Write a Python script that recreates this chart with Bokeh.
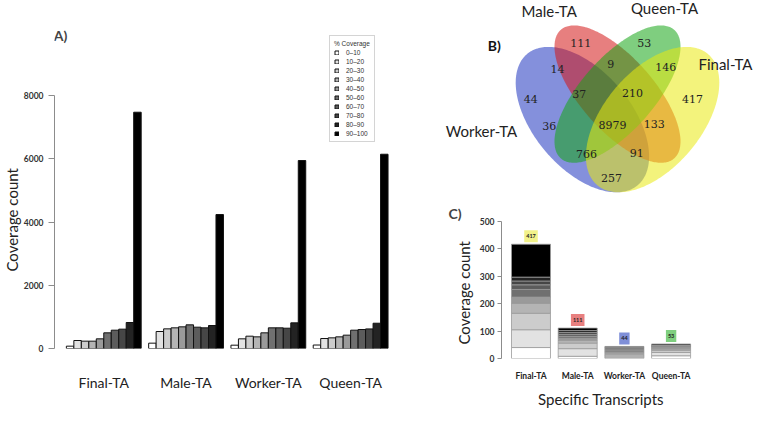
import numpy as np
from bokeh.plotting import figure
from bokeh.models import ColumnDataSource, Range1d, FixedTicker, Legend, LegendItem, Label, Title
from bokeh.layouts import row, column
from bokeh.embed import file_html
from bokeh.resources import INLINE
from bokeh.core.properties import value

# ---------------- data ----------------
groups = ["Final-TA", "Male-TA", "Worker-TA", "Queen-TA"]
coverage_bins = ["0–10", "10–20", "20–30", "30–40", "40–50",
                 "50–60", "60–70", "70–80", "80–90", "90–100"]
final_coverage = [74, 253, 232, 232, 306, 496, 580, 612, 823, 7480]
male_coverage = [169, 538, 622, 654, 686, 749, 675, 654, 728, 4241]
worker_coverage = [105, 306, 390, 369, 496, 654, 654, 643, 812, 5950]
queen_coverage = [110, 316, 337, 369, 422, 580, 601, 620, 800, 6150]
coverage_by_group = [final_coverage, male_coverage, worker_coverage, queen_coverage]
y_ticks_a = [0, 2000, 4000, 6000, 8000]

venn_set_names = ["Worker-TA", "Male-TA", "Queen-TA", "Final-TA"]
venn_counts = [111, 53, 14, 9, 146, 44, 37, 210, 417, 36, 8979, 133, 766, 91, 257]

specific_totals = [417, 111, 44, 53]
final_specific = [40, 65, 60, 36, 23, 28, 17, 14, 14, 120]
male_specific = [8, 28, 20, 10, 8, 7, 7, 7, 7, 9]
worker_specific = [3, 6, 5, 5, 4, 5, 4, 4, 4, 4]
queen_specific = [10, 12, 8, 5, 4, 3, 3, 2, 2, 4]
specific_by_group = [final_specific, male_specific, worker_specific, queen_specific]
y_ticks_c = [0, 100, 200, 300, 400, 500]

# ---------------- styles ----------------
gray_levels = ["#ffffff", "#e2e2e2", "#cccccc", "#b4b4b4", "#9a9a9a",
               "#707070", "#5c5c5c", "#464646", "#232323", "#000000"]
venn_fill = ["#1f35c0", "#d41515", "#15a515", "#eaea10"]
box_fill = ["#f2f28a", "#e88080", "#7f8fd8", "#7fcf7f"]
SANS = "Lato"

# ---------------- panel A ----------------
UA = 7.56                    # px per bar slot
A_LEFT, A_RIGHT, A_TOP, A_BOTTOM = 50, 8, 20, 62
A_W, A_H = 438, 410
a_frame_h = A_H - A_TOP - A_BOTTOM
a_pxu = 252.7 / 8000.0
xa0 = -12.0 / UA
xa1 = xa0 + (A_W - A_LEFT - A_RIGHT) / UA
ya1 = a_frame_h / a_pxu

xs, tops, cols, labs = [], [], [], []
for g, vals in enumerate(coverage_by_group):
    for i, v in enumerate(vals):
        xs.append(g * 11 + i + 0.5)
        tops.append(v)
        cols.append(gray_levels[i])
        labs.append(coverage_bins[i])
srcA = ColumnDataSource(dict(x=xs, top=tops, color=cols, label=labs))

figA = figure(width=A_W, height=A_H, output_backend="svg", toolbar_location=None,
              x_range=Range1d(xa0, xa1), y_range=Range1d(0, ya1),
              min_border_left=A_LEFT, min_border_right=A_RIGHT,
              min_border_top=A_TOP, min_border_bottom=A_BOTTOM)
figA.frame_align = False
figA.grid.visible = False
figA.outline_line_color = None
rA = figA.vbar(x="x", top="top", bottom=0, width=1.0, fill_color="color",
               line_color="#111111", line_width=1, source=srcA)

ya = figA.yaxis[0]
ya.ticker = FixedTicker(ticks=y_ticks_a)
ya.bounds = (0, 8000)
ya.axis_line_color = "#8c8c8c"
ya.major_tick_line_color = "#8c8c8c"
ya.major_tick_out = 6
ya.major_tick_in = 0
ya.minor_tick_line_color = None
ya.major_label_text_font = SANS
ya.major_label_text_font_style = "bold"
ya.major_label_text_font_size = "8.5px"
ya.major_label_text_color = "#333333"
ya.major_label_standoff = 5

figA.add_layout(Title(text="Coverage count", align="left", offset=77, standoff=0,
                      text_font=SANS, text_font_style="normal", text_font_size="15px",
                      text_color="#222222"), "left")

xa = figA.xaxis[0]
xa.ticker = FixedTicker(ticks=[g * 11 + 5 for g in range(4)])
xa.major_label_overrides = {g * 11 + 5: groups[g] for g in range(4)}
xa.axis_line_color = None
xa.major_tick_line_color = None
xa.minor_tick_line_color = None
xa.major_label_text_font = SANS
xa.major_label_text_font_size = "14px"
xa.major_label_text_color = "#222222"
xa.major_label_standoff = 19

items = [LegendItem(label=coverage_bins[i], renderers=[rA], index=i) for i in range(10)]
leg = Legend(items=items, location=(275, 206), title="% Coverage",
             title_text_font="Liberation Sans", title_text_font_style="normal",
             title_text_font_size="6.5px", title_text_color="#333333",
             label_text_font="Liberation Sans", label_text_font_size="6.5px",
             label_text_color="#333333",
             glyph_width=5, glyph_height=5, label_height=7, label_width=18,
             spacing=2, padding=4, margin=0, label_standoff=7, title_standoff=2,
             border_line_color="#aaaaaa", border_line_width=1)
figA.add_layout(leg)

figA.add_layout(Label(x=xa0 + 6 / UA, y=(A_H - A_BOTTOM - 35) / a_pxu, text="A)",
                      text_font=SANS, text_font_style="bold", text_font_size="14px",
                      text_align="center", text_baseline="middle"))

# ---------------- panel B (Venn) ----------------
B_W, B_H = 315, 199
bx0, by0 = 446, 8
figB = figure(width=B_W, height=B_H, output_backend="svg", toolbar_location=None,
              x_range=Range1d(bx0, bx0 + B_W), y_range=Range1d(by0 + B_H, by0),
              x_axis_type=None, y_axis_type=None,
              min_border_left=0, min_border_right=0, min_border_top=0, min_border_bottom=0)
figB.frame_align = False
figB.grid.visible = False
figB.outline_line_color = None

VX0, VSX, VTOP, VY0, VSY = 625.0, 234.0, 0.839, 33.0, 255.0
ellipses = [(0.35, 0.47, 0.35, 0.20, 135), (0.50, 0.57, 0.35, 0.15, 135),
            (0.50, 0.57, 0.35, 0.15, 45), (0.65, 0.47, 0.35, 0.20, 45)]
t = np.linspace(0, 2 * np.pi, 240)
pxs, pys = [], []
for cx, cy, a, b, ang in ellipses:
    th = np.deg2rad(ang)
    ux = cx + a * np.cos(t) * np.cos(th) - b * np.sin(t) * np.sin(th)
    uy = cy + a * np.cos(t) * np.sin(th) + b * np.sin(t) * np.cos(th)
    pxs.append(list(VX0 + (ux - 0.5) * VSX))
    pys.append(list(VY0 + (VTOP - uy) * VSY))
figB.patches(xs=pxs, ys=pys, fill_color=venn_fill, fill_alpha=0.55, line_color=None)

count_pos = [(588.3, 50.7), (651.7, 50), (565, 76), (618.3, 71.7), (673.3, 74),
             (538.3, 106.7), (586.7, 101.7), (640, 100), (700, 106), (556.7, 133.3),
             (620, 132.3), (661.7, 131), (594, 161.7), (644.3, 160.7), (619, 185)]
figB.text(x=[p[0] for p in count_pos], y=[p[1] for p in count_pos],
          text=[str(c) for c in venn_counts], text_align="center", text_baseline="middle",
          text_font=value("DejaVu Serif"), text_font_size="11px", text_color="#222222")

name_pos = [(489, 138.3, "center"), (556.7, 18.3, "center"), (672, 15, "center"), (760, 71.7, "right")]
for (nx, ny, al), nm in zip(name_pos, venn_set_names):
    figB.text(x=[nx], y=[ny], text=[nm], text_align=al, text_baseline="middle",
              text_font=value(SANS), text_font_size="15px", text_color="#222222")
figB.text(x=[501.7], y=[53.3], text=["B)"], text_align="center", text_baseline="middle",
          text_font=value(SANS), text_font_style="bold", text_font_size="14px", text_color="#111111")

# ---------------- panel C ----------------
C_W, C_H = 315, 211
C_LEFT, C_RIGHT, C_TOP, C_BOTTOM = 63, 53, 22, 41
UC = 46.7
c_frame_h = C_H - C_TOP - C_BOTTOM
c_pxu = c_frame_h / 500.0
xc0 = -29.5 / UC
xc1 = xc0 + (C_W - C_LEFT - C_RIGHT) / UC

cx_, cb_, ct_, cc_ = [], [], [], []
for g, vals in enumerate(specific_by_group):
    cum = np.concatenate([[0], np.cumsum(vals)])
    for i in range(len(vals)):
        cx_.append(g)
        cb_.append(float(cum[i]))
        ct_.append(float(cum[i + 1]))
        cc_.append(gray_levels[i])
srcC = ColumnDataSource(dict(x=cx_, bottom=cb_, top=ct_, color=cc_))

figC = figure(width=C_W, height=C_H, output_backend="svg", toolbar_location=None,
              x_range=Range1d(xc0, xc1), y_range=Range1d(0, 500),
              min_border_left=C_LEFT, min_border_right=C_RIGHT,
              min_border_top=C_TOP, min_border_bottom=C_BOTTOM,
              title="C)")
figC.frame_align = False
figC.title.text_font = SANS
figC.title.text_font_style = "bold"
figC.title.text_font_size = "14px"
figC.title.align = "left"
figC.title.offset = -53
figC.title.standoff = 0
figC.grid.visible = False
figC.outline_line_color = None
figC.vbar(x="x", bottom="bottom", top="top", width=0.835, fill_color="color",
          line_color="#9a9a9a", line_width=0.8, source=srcC)
figC.text(x=list(range(4)), y=specific_totals, text=[str(v) for v in specific_totals],
          y_offset=-8, text_align="center", text_baseline="middle",
          text_font=value(SANS), text_font_style="bold", text_font_size="5.5px",
          text_color="#222222", background_fill_color=box_fill, padding=(2, 4))

yc = figC.yaxis[0]
yc.ticker = FixedTicker(ticks=y_ticks_c)
yc.axis_line_color = "#8c8c8c"
yc.major_tick_line_color = "#8c8c8c"
yc.major_tick_out = 4
yc.major_tick_in = 0
yc.minor_tick_line_color = None
yc.major_label_text_font = SANS
yc.major_label_text_font_style = "bold"
yc.major_label_text_font_size = "8.5px"
yc.major_label_text_color = "#333333"
yc.major_label_standoff = 3

figC.add_layout(Title(text="Coverage count", align="left", offset=14, standoff=8,
                      text_font=SANS, text_font_style="normal", text_font_size="15px",
                      text_color="#222222"), "left")

xc = figC.xaxis[0]
xc.ticker = FixedTicker(ticks=list(range(4)))
xc.major_label_overrides = {g: groups[g] for g in range(4)}
xc.axis_line_color = None
xc.major_tick_line_color = None
xc.minor_tick_line_color = None
xc.major_label_text_font = SANS
xc.major_label_text_font_style = "bold"
xc.major_label_text_font_size = "8.5px"
xc.major_label_text_color = "#222222"
xc.major_label_standoff = 6
xc.axis_label = "Specific Transcripts"
xc.axis_label_text_font = SANS
xc.axis_label_text_font_style = "normal"
xc.axis_label_text_font_size = "15px"
xc.axis_label_text_color = "#222222"
xc.axis_label_standoff = 6

layout = row(figA, column(figB, figC))
open("out.html", "w").write(file_html(layout, INLINE))
